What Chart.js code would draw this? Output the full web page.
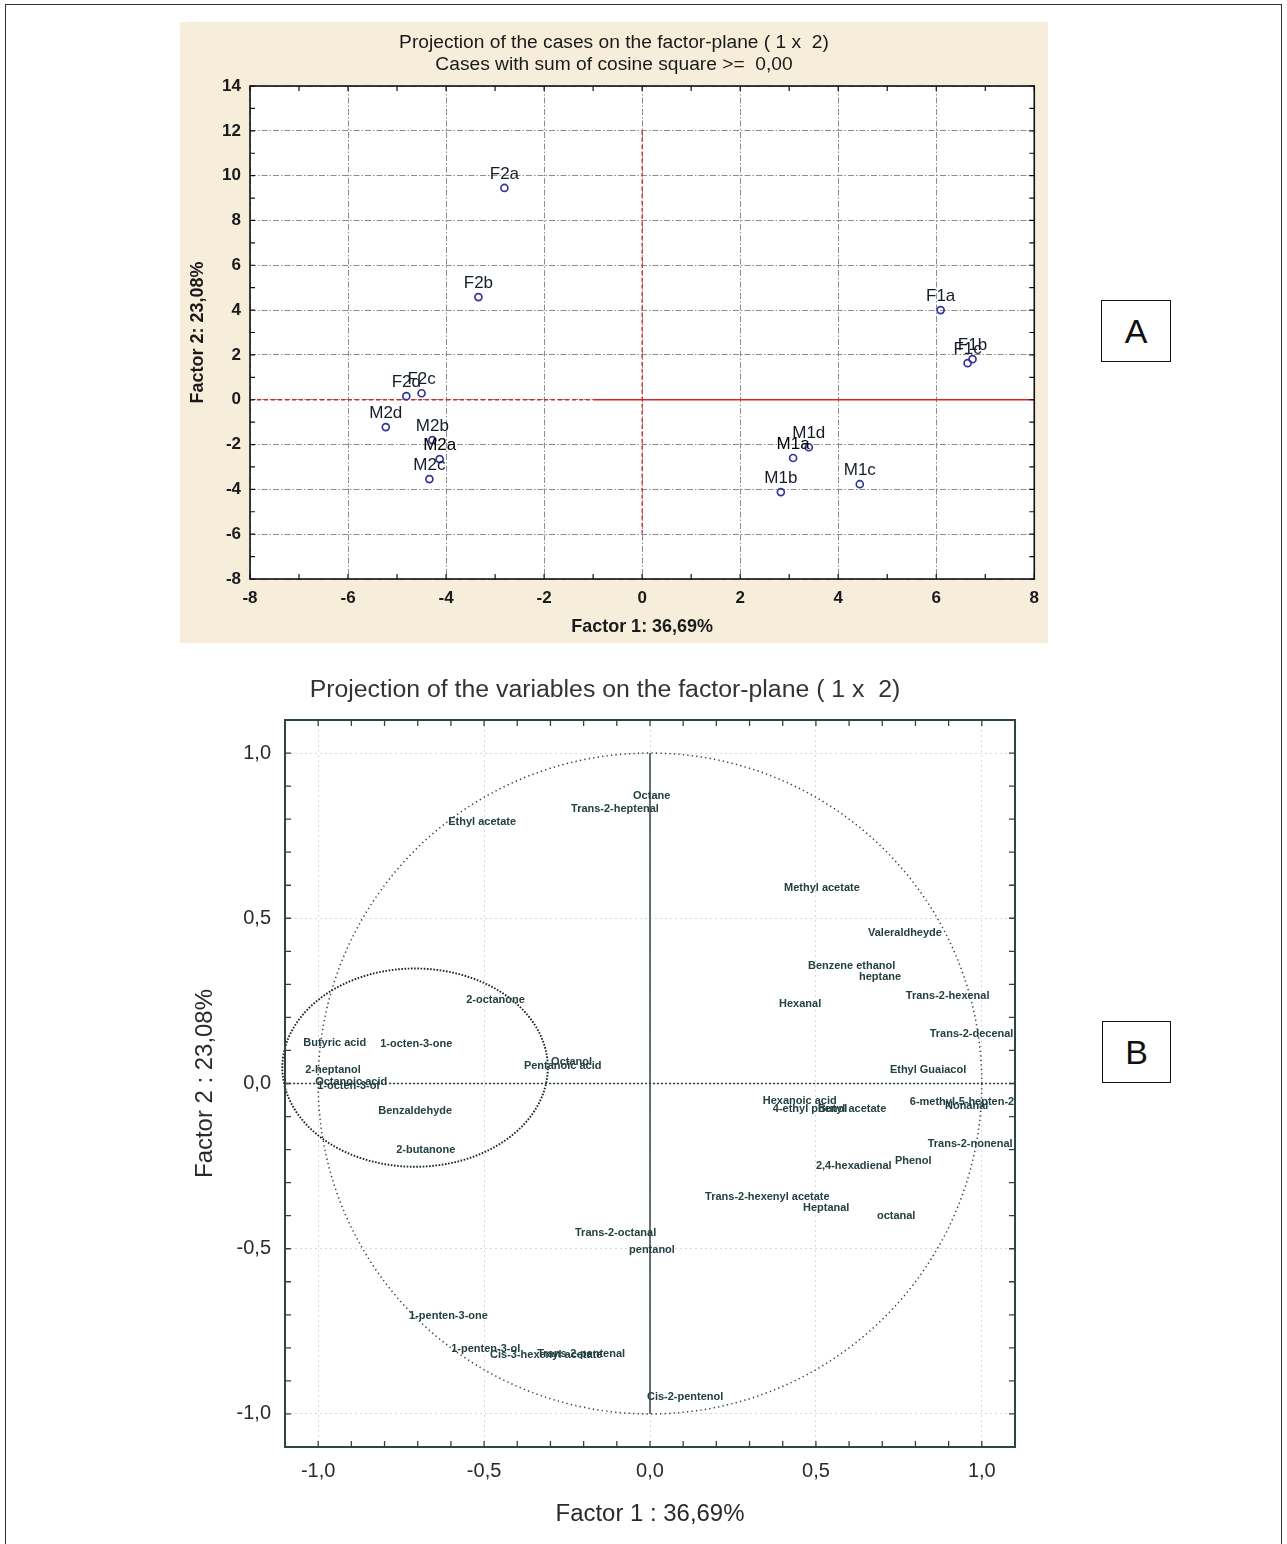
<!DOCTYPE html>
<html><head><meta charset="utf-8">
<script src="https://cdn.jsdelivr.net/npm/chart.js@4.4.0/dist/chart.umd.min.js"></script>
<style>
html,body{margin:0;padding:0;background:#fff}
body{width:1287px;height:1544px;position:relative;overflow:hidden;font-family:'Liberation Sans',Arial,sans-serif}
#frame{position:absolute;left:5px;top:4px;width:1277px;height:1620px;border:1px solid #333;box-sizing:border-box}
#wa{position:absolute;left:180px;top:22px;width:868px;height:621px}
#wb{position:absolute;left:180px;top:665px;width:880px;height:879px}
.box{position:absolute;border:1.5px solid #111;font-size:34px;color:#111;display:flex;align-items:center;justify-content:center;background:#fff;box-sizing:border-box}
</style></head><body>
<div id="frame"></div>
<div id="wa"><canvas id="ca"></canvas></div>
<div id="wb"><canvas id="cb"></canvas></div>
<div class="box" style="left:1101px;top:300px;width:70px;height:62px">A</div>
<div class="box" style="left:1102px;top:1021px;width:69px;height:62px">B</div>
<script>
// ---------- DATA: chart A (cases) ----------
const caseNames = ['F2a','F2b','F2c','F2d','M2d','M2b','M2a','M2c','F1a','F1b','F1c','M1d','M1a','M1b','M1c'];
const caseF1    = [-2.81,-3.34,-4.50,-4.81,-5.23,-4.28,-4.13,-4.34, 6.09, 6.74, 6.64, 3.40, 3.08, 2.83, 4.44];
const caseF2    = [ 9.45, 4.58, 0.29, 0.16,-1.22,-1.80,-2.65,-3.54, 4.00, 1.81, 1.63,-2.12,-2.60,-4.12,-3.77];
const xTicksA = [-8,-6,-4,-2,0,2,4,6,8];
const xTickLabelsA = ['-8','-6','-4','-2','0','2','4','6','8'];
const yTicksA = [-8,-6,-4,-2,0,2,4,6,8,10,12,14];
const yTickLabelsA = ['-8','-6','-4','-2','0','2','4','6','8','10','12','14'];
const titleA = ['Projection of the cases on the factor-plane ( 1 x  2)','Cases with sum of cosine square >=  0,00'];
const xTitleA = 'Factor 1: 36,69%';
const yTitleA = 'Factor 2: 23,08%';

// ---------- DATA: chart B (variables) ----------
const varNames = ['Octane','Trans-2-heptenal','Ethyl acetate','Methyl acetate','Valeraldheyde','Benzene ethanol','heptane',
  'Trans-2-hexenal','Hexanal','Trans-2-decenal','Ethyl Guaiacol','Hexanoic acid','4-ethyl phenol','Butyl acetate',
  '6-methyl-5-hepten-2-one','Nonanal','Trans-2-nonenal','Phenol','2,4-hexadienal','Trans-2-hexenyl acetate','Heptanal',
  'octanal','Trans-2-octanal','pentanol','1-penten-3-one','1-penten-3-ol','Cis-3-hexenyl acetate','Trans-2-pentenal',
  'Cis-2-pentenol','2-octanone','Butyric acid','1-octen-3-one','2-heptanol','Octanoic acid','1-octen-3-ol',
  'Benzaldehyde','2-butanone','Pentanoic acid','Octanol'];
const varF1 = [-0.051,-0.238,-0.608,0.404,0.657,0.476,0.630,
  0.771,0.389,0.843,0.723,0.340,0.370,0.506,
  0.783,0.889,0.837,0.738,0.500,0.166,0.461,
  0.684,-0.226,-0.063,-0.726,-0.599,-0.482,-0.340,
  -0.009,-0.554,-1.045,-0.813,-1.039,-1.009,-1.003,
  -0.819,-0.765,-0.380,-0.298];
const varF2 = [0.871,0.832,0.790,0.593,0.457,0.357,0.321,
  0.266,0.242,0.151,0.042,-0.054,-0.076,-0.076,
  -0.057,-0.067,-0.182,-0.233,-0.251,-0.342,-0.378,
  -0.402,-0.451,-0.505,-0.702,-0.802,-0.820,-0.817,
  -0.950,0.254,0.124,0.121,0.042,0.006,-0.006,
  -0.082,-0.200,0.054,0.064];
const ticksB = [-1,-0.5,0,0.5,1];
const tickLabelsB = ['-1,0','-0,5','0,0','0,5','1,0'];
const ellipseB = {cx:-0.708, cy:0.048, rx:0.40, ry:0.30};
const titleB = 'Projection of the variables on the factor-plane ( 1 x  2)';
const xTitleB = 'Factor 1 : 36,69%';
const yTitleB = 'Factor 2 : 23,08%';

// ---------- fonts ----------
function hasFont(f){const c=document.createElement('canvas').getContext('2d');const t='abcdefghijklmnopqrstuvwxyz0123456789';
  c.font='40px monospace';const a=c.measureText(t).width;c.font="40px '"+f+"', monospace";return Math.abs(c.measureText(t).width-a)>0.5;}
const FAM = (hasFont('Liberation Sans Narrow')?"'Liberation Sans Narrow', ":"")+"'Liberation Sans', Arial, sans-serif";
const mctx = document.createElement('canvas').getContext('2d');
function fit(text, weight, width, maxSize){mctx.font=weight+' 100px '+FAM;const w=mctx.measureText(text).width;return Math.min(maxSize,100*width/w);}

const szTitleA = fit(titleA[0],'normal',430,20);
const szAxA = fit(xTitleA,'bold',142,18);
const szLabA = Math.min(17, fit('F2a','normal',31,17));
const szTickA = Math.max(16, fit('14','bold',19,17));
const szTitleB = fit(titleB,'normal',591,26);
const szTickB = Math.max(20, fit('-0,5','normal',29,24));
const szAxB = fit(xTitleB,'normal',189,26);
const szVarB = Math.max(10.8, fit('Trans-2-heptenal','bold',88,12.5));

// ---------- chart A ----------
const pluginA = {
  id:'pA',
  beforeDraw(ch){const {ctx,chartArea:a}=ch;ctx.save();ctx.fillStyle='#f7eddb';ctx.fillRect(0,0,ch.width,ch.height);
    ctx.fillStyle='#fff';ctx.fillRect(a.left,a.top,a.right-a.left,a.bottom-a.top);ctx.restore();},
  beforeDatasetsDraw(ch){const {ctx,chartArea:a,scales:{x,y}}=ch;ctx.save();
    ctx.strokeStyle='#e02020';ctx.lineWidth=1.3;
    ctx.setLineDash([4,3]);ctx.beginPath();ctx.moveTo(x.getPixelForValue(0),y.getPixelForValue(12));ctx.lineTo(x.getPixelForValue(0),y.getPixelForValue(-6));ctx.stroke();
    ctx.beginPath();ctx.moveTo(x.getPixelForValue(-8),y.getPixelForValue(0));ctx.lineTo(x.getPixelForValue(-1),y.getPixelForValue(0));ctx.stroke();
    ctx.setLineDash([]);ctx.beginPath();ctx.moveTo(x.getPixelForValue(-1),y.getPixelForValue(0));ctx.lineTo(x.getPixelForValue(8),y.getPixelForValue(0));ctx.stroke();
    ctx.strokeStyle='#111';ctx.lineWidth=1.2;ctx.beginPath();
    for(let v=-8;v<=8;v++){const px=x.getPixelForValue(v);ctx.moveTo(px,a.bottom);ctx.lineTo(px,a.bottom-5);ctx.moveTo(px,a.top);ctx.lineTo(px,a.top+5);}
    for(let v=-8;v<=14;v++){const py=y.getPixelForValue(v);ctx.moveTo(a.left,py);ctx.lineTo(a.left+5,py);ctx.moveTo(a.right,py);ctx.lineTo(a.right-5,py);}
    ctx.stroke();
    ctx.lineWidth=1.6;ctx.strokeRect(a.left,a.top,a.right-a.left,a.bottom-a.top);
    ctx.restore();},
  afterDatasetsDraw(ch){const {ctx,scales:{x,y}}=ch;ctx.save();ctx.font='normal '+szLabA+'px '+FAM;ctx.textAlign='center';ctx.textBaseline='middle';
    caseNames.forEach((n,i)=>{ctx.fillStyle=(n==='M2a'||n==='M1a')?'#000':'#161c2a';ctx.fillText(n,x.getPixelForValue(caseF1[i]),y.getPixelForValue(caseF2[i])-14);});
    ctx.restore();},
  afterDraw(ch){const {ctx}=ch;ctx.save();ctx.fillStyle='#1a1a1a';ctx.font='normal '+szTitleA+'px '+FAM;ctx.textAlign='center';ctx.textBaseline='middle';
    ctx.fillText(titleA[0],434,21);ctx.fillText(titleA[1],434,43);ctx.restore();}
};
new Chart(document.getElementById('ca'),{
  type:'scatter',
  data:{datasets:[{data:caseNames.map((n,i)=>({x:caseF1[i],y:caseF2[i]})),pointRadius:3.5,pointHoverRadius:3.5,
    pointBorderColor:'#34349a',pointBorderWidth:1.7,pointBackgroundColor:'rgba(255,255,255,0)'}]},
  options:{responsive:true,maintainAspectRatio:false,animation:false,events:[],
    layout:{padding:{top:64,right:12,left:0,bottom:0}},
    plugins:{legend:{display:false},tooltip:{enabled:false},title:{display:false}},
    scales:{
      x:{type:'linear',min:-8,max:8,
        afterBuildTicks:s=>{s.ticks=xTicksA.map(v=>({value:v}));},
        ticks:{autoSkip:false,maxRotation:0,font:{family:FAM,size:szTickA,weight:'bold'},color:'#1a1a1a',padding:9,callback:(v,i)=>xTickLabelsA[i]},
        grid:{color:'#8c8c8c',lineWidth:1,drawTicks:false},
        border:{display:false,dash:[6,2,1.5,2]},
        title:{display:true,text:xTitleA,font:{family:FAM,size:szAxA,weight:'bold'},color:'#1a1a1a',padding:{top:0,bottom:16-szAxA*0.6}},
        afterFit:s=>{s.height=64;}},
      y:{type:'linear',min:-8,max:14,
        afterBuildTicks:s=>{s.ticks=yTicksA.map(v=>({value:v}));},
        ticks:{autoSkip:false,font:{family:FAM,size:szTickA,weight:'bold'},color:'#1a1a1a',padding:9,callback:(v,i)=>yTickLabelsA[i]},
        grid:{color:'#8c8c8c',lineWidth:1,drawTicks:false},
        border:{display:false,dash:[6,2,1.5,2]},
        title:{display:true,text:yTitleA,font:{family:FAM,size:szAxA,weight:'bold'},color:'#1a1a1a',padding:{top:18-szAxA*0.6,bottom:0}},
        afterFit:s=>{s.width=70;}}
    }},
  plugins:[pluginA]
});

// ---------- chart B ----------
const inkB='#2c4545';
const pluginB = {
  id:'pB',
  beforeDraw(ch){const {ctx}=ch;ctx.save();ctx.fillStyle='#fff';ctx.fillRect(0,0,ch.width,ch.height);ctx.restore();},
  beforeDatasetsDraw(ch){const {ctx,chartArea:a,scales:{x,y}}=ch;ctx.save();
    ctx.strokeStyle=inkB;ctx.lineWidth=1.5;ctx.beginPath();ctx.moveTo(x.getPixelForValue(0),y.getPixelForValue(1));ctx.lineTo(x.getPixelForValue(0),y.getPixelForValue(-1));ctx.stroke();
    ctx.setLineDash([2,2]);ctx.beginPath();ctx.moveTo(a.left,y.getPixelForValue(0));ctx.lineTo(a.right,y.getPixelForValue(0));ctx.stroke();
    ctx.setLineDash([1.3,3.2]);ctx.lineWidth=1.5;ctx.strokeStyle='#2f3f3f';ctx.beginPath();
    for(let k=0;k<=720;k++){const t=k/720*2*Math.PI;const px=x.getPixelForValue(Math.cos(t)),py=y.getPixelForValue(Math.sin(t));k?ctx.lineTo(px,py):ctx.moveTo(px,py);}
    ctx.stroke();
    ctx.setLineDash([1.6,1.6]);ctx.lineWidth=1.9;ctx.strokeStyle='#1a2424';ctx.beginPath();
    for(let k=0;k<=720;k++){const t=k/720*2*Math.PI;const px=x.getPixelForValue(ellipseB.cx+ellipseB.rx*Math.cos(t)),py=y.getPixelForValue(ellipseB.cy+ellipseB.ry*Math.sin(t));k?ctx.lineTo(px,py):ctx.moveTo(px,py);}
    ctx.stroke();ctx.setLineDash([]);
    ctx.strokeStyle=inkB;ctx.lineWidth=1.3;ctx.beginPath();
    for(let k=-11;k<=11;k++){const v=k/10;const px=x.getPixelForValue(v),py=y.getPixelForValue(v);
      ctx.moveTo(px,a.bottom);ctx.lineTo(px,a.bottom-6);ctx.moveTo(px,a.top);ctx.lineTo(px,a.top+6);
      ctx.moveTo(a.left,py);ctx.lineTo(a.left+6,py);ctx.moveTo(a.right,py);ctx.lineTo(a.right-6,py);}
    ctx.stroke();
    ctx.lineWidth=2;ctx.strokeRect(a.left,a.top,a.right-a.left,a.bottom-a.top);
    ctx.restore();},
  afterDatasetsDraw(ch){const {ctx,chartArea:a,scales:{x,y}}=ch;ctx.save();
    ctx.beginPath();ctx.rect(a.left+1,a.top+1,a.right-a.left-2,a.bottom-a.top-2);ctx.clip();
    ctx.font='bold '+szVarB+'px '+FAM;ctx.textAlign='left';ctx.textBaseline='middle';ctx.fillStyle='#244040';
    varNames.forEach((n,i)=>ctx.fillText(n,x.getPixelForValue(varF1[i]),y.getPixelForValue(varF2[i])));
    ctx.restore();},
  afterDraw(ch){const {ctx}=ch;ctx.save();ctx.fillStyle='#333';ctx.font='normal '+szTitleB+'px '+FAM;ctx.textAlign='center';ctx.textBaseline='middle';
    ctx.fillText(titleB,425,25);ctx.restore();}
};
new Chart(document.getElementById('cb'),{
  type:'scatter',
  data:{datasets:[{data:varNames.map((n,i)=>({x:varF1[i],y:varF2[i]})),pointRadius:0,pointHoverRadius:0}]},
  options:{responsive:true,maintainAspectRatio:false,animation:false,events:[],
    layout:{padding:{top:55,right:45,left:0,bottom:0}},
    plugins:{legend:{display:false},tooltip:{enabled:false},title:{display:false}},
    scales:{
      x:{type:'linear',min:-1.1,max:1.1,
        afterBuildTicks:s=>{s.ticks=ticksB.map(v=>({value:v}));},
        ticks:{autoSkip:false,maxRotation:0,font:{family:FAM,size:szTickB},color:'#2a2a2a',padding:12,callback:(v,i)=>tickLabelsB[i]},
        grid:{color:'#d8d8d8',lineWidth:1,drawTicks:false},
        border:{display:false,dash:[2,3]},
        title:{display:true,text:xTitleB,font:{family:FAM,size:szAxB},color:'#2a2a2a',padding:{top:0,bottom:30-szAxB*0.6}},
        afterFit:s=>{s.height=97;}},
      y:{type:'linear',min:-1.1,max:1.1,
        afterBuildTicks:s=>{s.ticks=ticksB.map(v=>({value:v}));},
        ticks:{autoSkip:false,font:{family:FAM,size:szTickB},color:'#2a2a2a',padding:14,callback:(v,i)=>tickLabelsB[i]},
        grid:{color:'#d8d8d8',lineWidth:1,drawTicks:false},
        border:{display:false,dash:[2,3]},
        title:{display:true,text:yTitleB,font:{family:FAM,size:szAxB},color:'#2a2a2a',padding:{top:25-szAxB*0.6,bottom:0}},
        afterFit:s=>{s.width=105;}}
    }},
  plugins:[pluginB]
});
</script>
</body></html>
